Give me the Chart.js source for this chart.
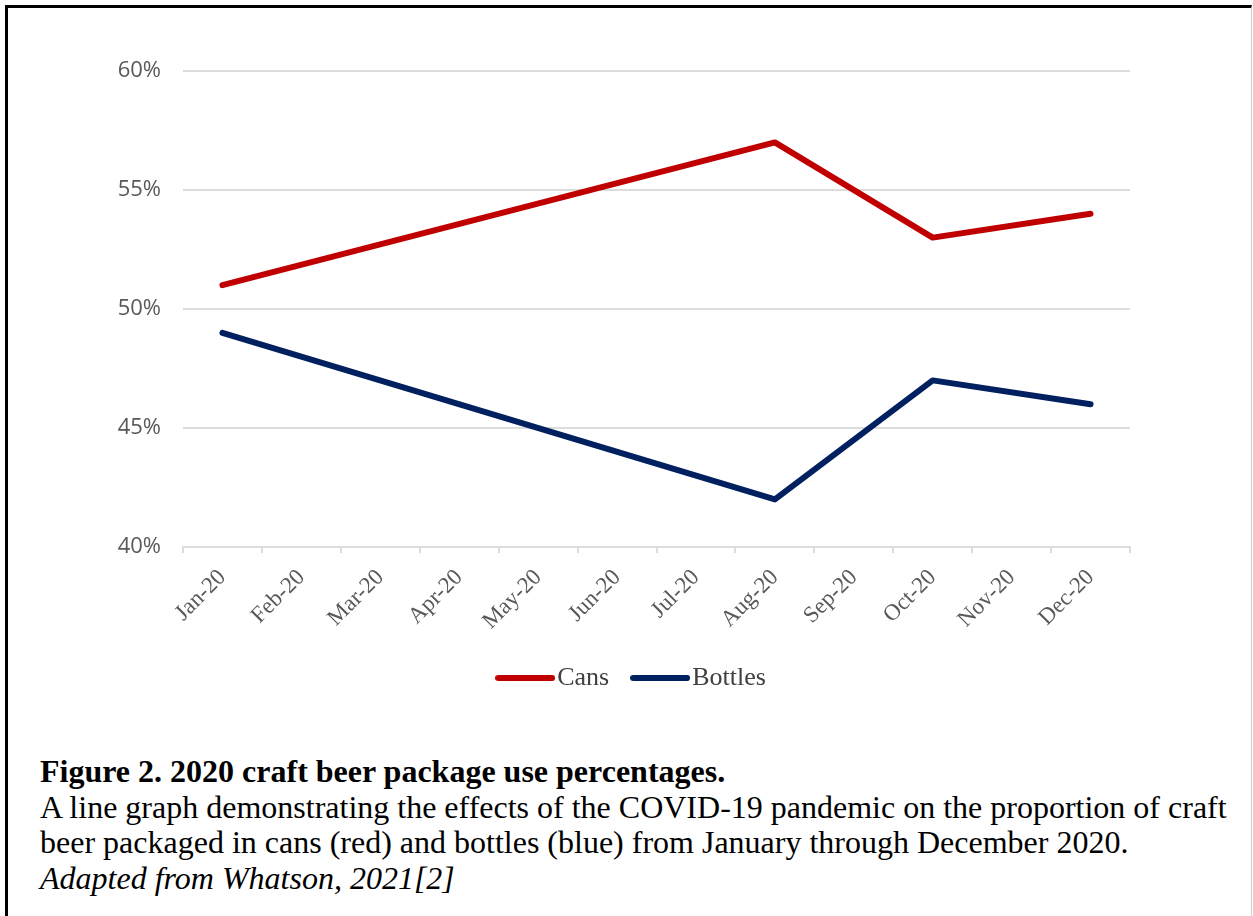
<!DOCTYPE html>
<html>
<head>
<meta charset="utf-8">
<script src="https://cdn.jsdelivr.net/npm/chart.js@4/dist/chart.umd.min.js"></script>
<style>
  html, body { margin: 0; padding: 0; background: #fff; }
  body { width: 1253px; height: 916px; position: relative; overflow: hidden; }
  .frame {
    position: absolute; left: 5px; top: 5px; width: 1243px; height: 930px;
    border-left: 3px solid #000; border-top: 3px solid #000; border-right: 1px solid #cfcfcf;
  }
  #wrap { position: absolute; left: 8px; top: 8px; width: 1243px; height: 700px; }
  .caption {
    position: absolute; left: 40px; top: 754px;
    font-family: "Liberation Serif", "Times New Roman", serif;
    font-size: 32px; line-height: 35.5px; color: #000; white-space: nowrap;
  }
  .caption b { font-weight: bold; }
</style>
</head>
<body>
<div class="frame"></div>
<div id="wrap"><canvas id="chart"></canvas></div>
<div class="caption">
  <b>Figure 2. 2020 craft beer package use percentages.</b><br>
  A line graph demonstrating the effects of the COVID-19 pandemic on the proportion of craft<br>
  beer packaged in cans (red) and bottles (blue) from January through December 2020.<br>
  <i>Adapted from Whatson, 2021[2]</i>
</div>
<script>
// Months of 2020 on the category axis
const months = ['Jan-20', 'Feb-20', 'Mar-20', 'Apr-20', 'May-20', 'Jun-20',
                'Jul-20', 'Aug-20', 'Sep-20', 'Oct-20', 'Nov-20', 'Dec-20'];

// Share of craft beer packaged in cans / bottles (%); months without a reading are null
const cans    = [51, null, null, null, null, null, null, 57, null, 53, null, 54];
const bottles = [49, null, null, null, null, null, null, 42, null, 47, null, 46];

// Value axis range and step (%)
const yMin = 40, yMax = 60, yStep = 5;

const gridGrey = '#dcdcdc';
const textGrey = '#595959';
const serif = '"Liberation Serif", "Times New Roman", serif';

// Thick rounded line swatch used as the legend symbol
function lineSwatch(color) {
  const c = document.createElement('canvas');
  c.width = 60; c.height = 8;
  const g = c.getContext('2d');
  g.strokeStyle = color; g.lineWidth = 6; g.lineCap = 'round';
  g.beginPath(); g.moveTo(3, 4); g.lineTo(57, 4); g.stroke();
  return c;
}

function series(label, data, color) {
  return {
    label, data,
    borderColor: color, backgroundColor: color,
    borderWidth: 6, borderCapStyle: 'round', borderJoinStyle: 'round',
    pointRadius: 0, pointHoverRadius: 0, pointStyle: lineSwatch(color),
    spanGaps: true, tension: 0
  };
}

new Chart(document.getElementById('chart'), {
  type: 'line',
  data: {
    labels: months,
    datasets: [
      series('Cans', cans, '#c00000'),
      series('Bottles', bottles, '#002060')
    ]
  },
  options: {
    responsive: true,
    maintainAspectRatio: false,
    animation: false,
    layout: { padding: { left: 104, right: 91, top: 63, bottom: 7 } },
    plugins: {
      tooltip: { enabled: false },
      legend: {
        position: 'bottom',
        labels: {
          usePointStyle: true,
          pointStyleWidth: 38,
          padding: 32,
          color: '#404040',
          font: { family: serif, size: 26 }
        }
      }
    },
    scales: {
      x: {
        offset: true,
        afterFit: (s) => { s.height = 86; },
        grid: { offset: true, drawOnChartArea: false, drawTicks: true, tickLength: 6, color: gridGrey, lineWidth: 2 },
        border: { display: true, color: gridGrey, width: 2 },
        ticks: {
          maxRotation: 45, minRotation: 45, autoSkip: false, padding: 11,
          color: textGrey,
          font: { family: serif, size: 23 }
        }
      },
      y: {
        min: yMin, max: yMax,
        afterFit: (s) => { s.width = 71; },
        grid: { drawTicks: false, color: gridGrey, lineWidth: 2 },
        border: { display: false },
        ticks: {
          stepSize: yStep, padding: 22, color: textGrey,
          font: { family: '"Open Sans", "Noto Sans", sans-serif', size: 22 },
          callback: (v) => v + '%'
        }
      },
      // blank right-hand margin beside the plot
      yRight: {
        position: 'right',
        afterFit: (s) => { s.width = 30; },
        grid: { display: false },
        border: { display: false },
        ticks: { display: false }
      }
    }
  }
});
</script>
</body>
</html>
